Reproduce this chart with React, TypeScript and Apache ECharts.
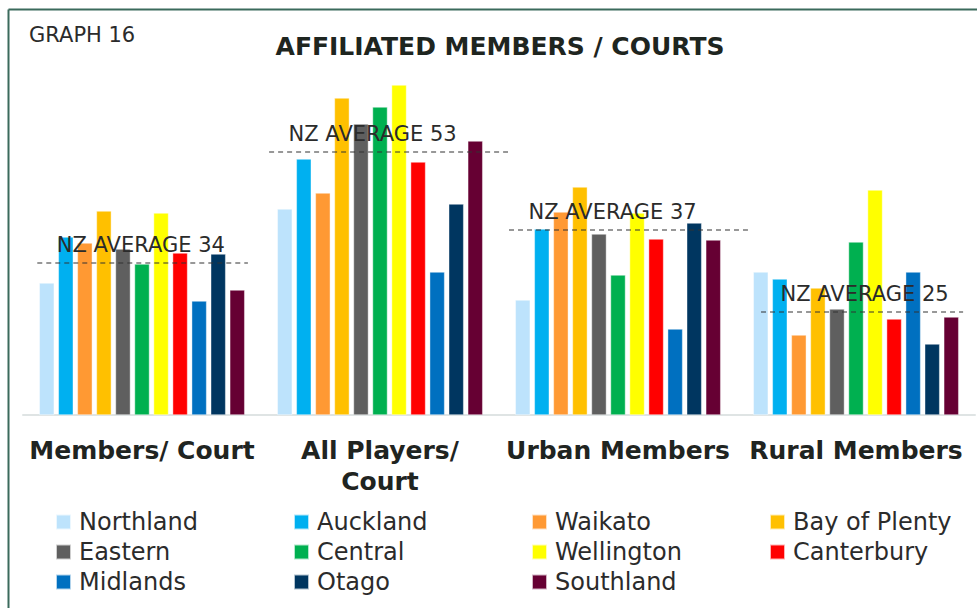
import React, { useEffect, useRef } from "react";
import * as echarts from "echarts";

const categories = ["Members/ Court", "All Players/\nCourt", "Urban Members", "Rural Members"];
const regions = [
  "Northland", "Auckland", "Waikato", "Bay of Plenty", "Eastern", "Central",
  "Wellington", "Canterbury", "Midlands", "Otago", "Southland",
];
const colors = [
  "#BDE3FC", "#00B0F0", "#FF9933", "#FFC000", "#5F5F5F", "#00B050",
  "#FFFF00", "#FF0000", "#0070C0", "#003660", "#660033",
];
// values per region: [Members/Court, All Players/Court, Urban, Rural]
const northland = [26.4, 41.2, 23.0, 28.6];
const auckland = [35.6, 51.2, 37.2, 27.2];
const waikato = [34.4, 44.4, 40.6, 16.0];
const bayOfPlenty = [40.8, 63.4, 45.6, 25.4];
const eastern = [33.2, 58.2, 36.2, 21.2];
const central = [30.2, 61.6, 28.0, 34.6];
const wellington = [40.4, 66.0, 40.4, 45.0];
const canterbury = [32.4, 50.6, 35.2, 19.2];
const midlands = [22.8, 28.6, 17.2, 28.6];
const otago = [32.2, 42.2, 38.4, 14.2];
const southland = [25.0, 54.8, 35.0, 19.6];
const seriesValues = [
  northland, auckland, waikato, bayOfPlenty, eastern, central,
  wellington, canterbury, midlands, otago, southland,
];

const averageLabels = ["NZ AVERAGE 34", "NZ AVERAGE 53", "NZ AVERAGE 37", "NZ AVERAGE 25"];
const averageLevels = [30.4, 52.6, 37.0, 20.6];
// horizontal extent of each dashed line, in category units (layout)
const averageSpans = [
  [-0.44, 0.445],
  [0.534, 1.538],
  [1.542, 2.546],
  [2.601, 3.45],
];

export default function App() {
  const ref = useRef<HTMLDivElement>(null);
  useEffect(() => {
    if (!ref.current) return;
    const chart = echarts.init(ref.current, null, { renderer: "svg" });
    const font = "'DejaVu Sans', 'Noto Sans', sans-serif";
    const light = 400;
    const lightColor = "#2b2b2b";
    const barSeries = regions.map((name, i) => ({
      name,
      type: "bar",
      xAxisIndex: 0,
      yAxisIndex: 0,
      data: seriesValues[i],
      barWidth: 15,
      barGap: "27%",
      itemStyle: { color: colors[i], borderColor: "rgba(255,255,255,0.7)", borderWidth: 0.6 },
    }));
    const avgSeries = averageLevels.map((lvl, i) => ({
      name: "avg" + i,
      type: "line",
      xAxisIndex: 1,
      yAxisIndex: 0,
      z: 10,
      symbol: "circle",
      symbolSize: 1,
      showSymbol: true,
      itemStyle: { color: "rgba(0,0,0,0)" },
      lineStyle: { color: "#333", width: 1.2, type: [5, 4] },
      data: [
        {
          value: [averageSpans[i][0], lvl],
          label: {
            show: true,
            position: "right",
            offset: [14, -18],
            formatter: averageLabels[i],
            fontSize: 21,
            fontWeight: light,
            fontFamily: font,
            color: lightColor,
          },
        },
        { value: [averageSpans[i][1], lvl] },
      ],
    }));
    chart.setOption({
      animation: false,
      backgroundColor: "#fff",
      grid: { left: 23, right: 2, top: 15, bottom: 193 },
      legend: {
        data: regions,
        left: 55,
        top: 507,
        width: 970,
        padding: 0,
        itemWidth: 15,
        itemHeight: 15,
        itemGap: 0,
        icon: "rect",
        textStyle: {
          fontSize: 24,
          fontWeight: light,
          fontFamily: font,
          color: lightColor,
          width: 214,
          lineHeight: 30,
          height: 30,
          padding: [0, 0, 0, 3],
        },
      },
      xAxis: [
        {
          type: "category",
          data: categories,
          axisTick: { show: false },
          axisLine: { lineStyle: { color: "#dfe4e4", width: 2 } },
          axisLabel: {
            fontSize: 25,
            fontWeight: "bold",
            color: "#1f2421",
            fontFamily: font,
            margin: 20,
            lineHeight: 31,
            interval: 0,
          },
        },
        { type: "value", min: -0.5, max: 3.5, show: false },
      ],
      yAxis: {
        type: "value",
        min: 0,
        max: 80,
        show: false,
        splitLine: { show: false },
      },
      graphic: [
        { type: "line", shape: { x1: 8.5, y1: 9.5, x2: 977, y2: 9.5 }, style: { stroke: "#3b6a5c", lineWidth: 2 } },
        { type: "line", shape: { x1: 8.5, y1: 9.5, x2: 8.5, y2: 608 }, style: { stroke: "#3b6a5c", lineWidth: 2 } },
        {
          type: "text",
          x: 29,
          y: 35,
          style: {
            text: "GRAPH 16",
            fontSize: 21,
            fontWeight: light,
            fontFamily: font,
            fill: lightColor,
            textVerticalAlign: "middle",
          },
        },
        {
          type: "text",
          x: 500,
          y: 46,
          style: {
            text: "AFFILIATED MEMBERS / COURTS",
            fontSize: 25,
            fontWeight: "bold",
            fontFamily: font,
            fill: "#1e2520",
            textAlign: "center",
            textVerticalAlign: "middle",
          },
        },
      ],
      series: [...barSeries, ...avgSeries],
    });
    return () => chart.dispose();
  }, []);
  return (
    <div
      ref={ref}
      style={{ position: "absolute", left: 0, top: 0, width: 977, height: 608 }}
    />
  );
}
